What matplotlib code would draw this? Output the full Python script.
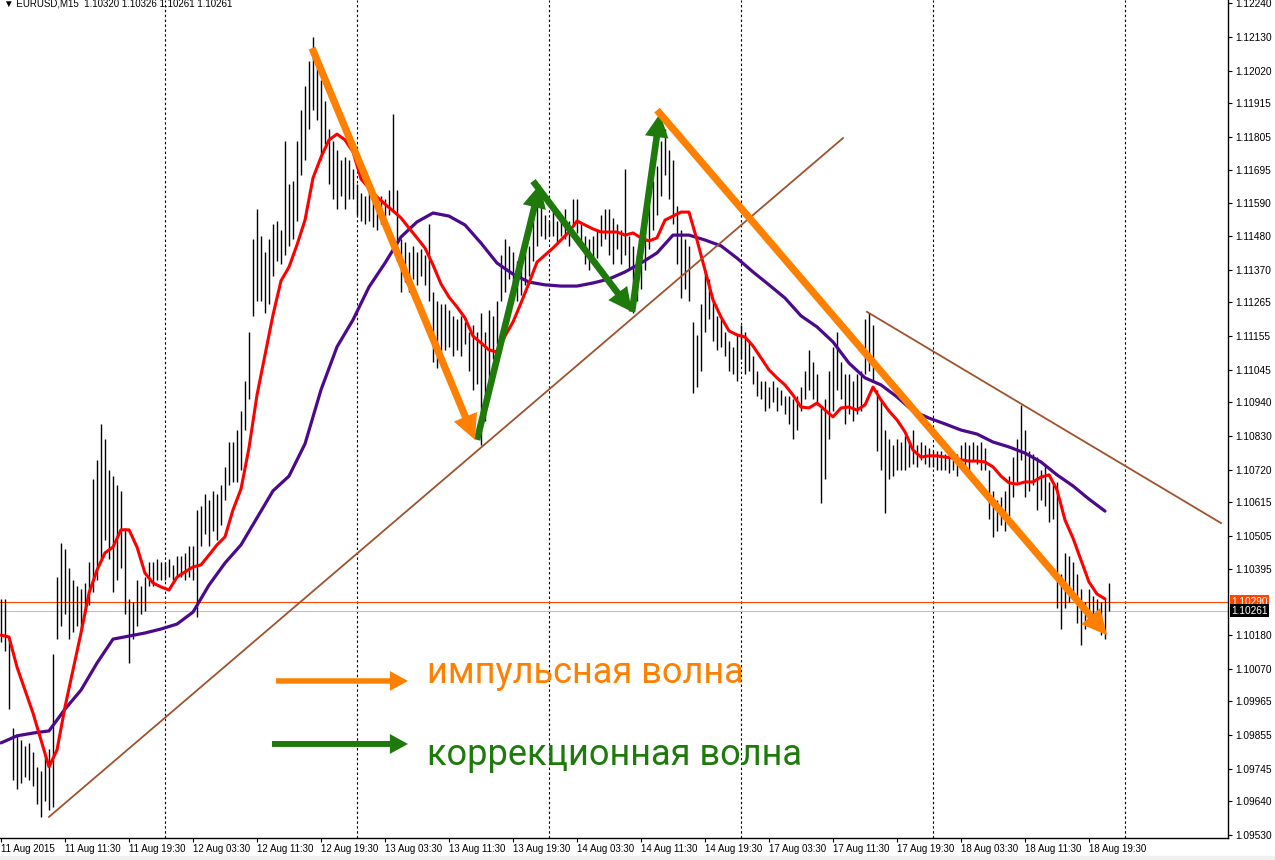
import numpy as np
import matplotlib
matplotlib.use("Agg")
import matplotlib.pyplot as plt
import matplotlib.transforms as mtransforms
from matplotlib.patches import FancyArrowPatch, Rectangle

# EURUSD bars, one entry every 2 M15 slots (bar index = 2*i)
highs = [
    1.1030, 1.1030, 1.1017, 1.0988, 1.0986, 1.0984, 1.0982, 1.0983, 1.0980, 1.0975, 1.0974, 1.0979, 1.0981, 1.1012,
    1.1037, 1.1048, 1.1046, 1.1040, 1.1036, 1.1034, 1.1033, 1.1035, 1.1042, 1.1069, 1.1075, 1.1087,
    1.1082, 1.1072, 1.1070, 1.1067, 1.1065, 1.1053, 1.1030, 1.1029, 1.1036, 1.1034, 1.1037, 1.1042,
    1.1042, 1.1043, 1.1042, 1.1042, 1.1043, 1.1041, 1.1044, 1.1044, 1.1045, 1.1047, 1.1047, 1.1059, 1.1060,
    1.1064, 1.1062, 1.1065, 1.1064, 1.1067, 1.1073, 1.1081, 1.1081, 1.1085, 1.1091, 1.1101, 1.1117,
    1.1147, 1.1157, 1.1148, 1.1143, 1.1147, 1.1152, 1.1153, 1.1150, 1.1179, 1.1165, 1.1166, 1.1179,
    1.1189, 1.1197, 1.1205, 1.1213, 1.1205, 1.1199, 1.1192, 1.1183, 1.1179, 1.1176, 1.1173, 1.1174, 1.1173,
    1.1170, 1.1165, 1.1162, 1.1161, 1.1163, 1.1161, 1.1160, 1.1161, 1.1160, 1.1163, 1.1188, 1.1163,
    1.1147, 1.1146, 1.1143, 1.1145, 1.1143, 1.1144, 1.1142, 1.1152, 1.1130, 1.1127, 1.1126, 1.1126,
    1.1124, 1.1122, 1.1121, 1.1122, 1.1120, 1.1117, 1.1119, 1.1117, 1.1123, 1.1117, 1.1124, 1.1122,
    1.1127, 1.1142, 1.1147, 1.1145, 1.1143, 1.1140, 1.1138, 1.1143, 1.1145, 1.1155, 1.1161, 1.1160,
    1.1155, 1.1153, 1.1156, 1.1153, 1.1155, 1.1157, 1.1153, 1.1160, 1.1160, 1.1152, 1.1148, 1.1147,
    1.1148, 1.1150, 1.1155, 1.1157, 1.1157, 1.1154, 1.1152, 1.1150, 1.1170, 1.1148, 1.1145, 1.1142,
    1.1150, 1.1153, 1.1158, 1.1166, 1.1171, 1.1179, 1.1183, 1.1176, 1.1173, 1.1158, 1.1150, 1.1147,
    1.1145, 1.1120, 1.1116, 1.1126, 1.1137, 1.1134, 1.1127, 1.1122, 1.1121, 1.1117, 1.1114, 1.1112,
    1.1116, 1.1119, 1.1117, 1.1114, 1.1109, 1.1104, 1.1101, 1.1101, 1.1099, 1.1101, 1.1099, 1.1098,
    1.1096, 1.1096, 1.1095, 1.1096, 1.1099, 1.1104, 1.1111, 1.1107, 1.1103, 1.1092, 1.1095, 1.1104,
    1.1112, 1.1117, 1.1107, 1.1103, 1.1103, 1.1101, 1.1103, 1.1104, 1.1121, 1.1123, 1.1119, 1.1098,
    1.1095, 1.1085, 1.1082, 1.1080, 1.1082, 1.1081, 1.1083, 1.1081, 1.1085, 1.1080, 1.1081, 1.1080,
    1.1079, 1.1078, 1.1078, 1.1078, 1.1077, 1.1077, 1.1076, 1.1077, 1.1080, 1.1081, 1.1080, 1.1081,
    1.1080, 1.1081, 1.1079, 1.1072, 1.1065, 1.1062, 1.1063, 1.1065, 1.1070, 1.1076, 1.1082, 1.1093,
    1.1085, 1.1078, 1.1077, 1.1076, 1.1072, 1.1074, 1.1068, 1.1067, 1.1068, 1.1038, 1.1045, 1.1044,
    1.1042, 1.1038, 1.1033, 1.1029, 1.1033, 1.1031, 1.1030, 1.1029, 1.1030, 1.1035,
]
lows = [
    1.1016, 1.1013, 1.0994, 1.0971, 1.0968, 1.0970, 1.0972, 1.0971, 1.0969, 1.0963, 1.0959, 1.0964, 1.0961, 1.0962,
    1.1017, 1.1021, 1.1025, 1.1017, 1.1019, 1.1021, 1.1019, 1.1025, 1.1028, 1.1032, 1.1036, 1.1043,
    1.1049, 1.1043, 1.1032, 1.1036, 1.1040, 1.1025, 1.1009, 1.1017, 1.1021, 1.1025, 1.1026, 1.1034,
    1.1034, 1.1036, 1.1036, 1.1036, 1.1037, 1.1036, 1.1037, 1.1037, 1.1036, 1.1037, 1.1036, 1.1024, 1.1047,
    1.1051, 1.1047, 1.1052, 1.1049, 1.1054, 1.1062, 1.1067, 1.1068, 1.1068, 1.1072, 1.1085, 1.1095,
    1.1122, 1.1127, 1.1127, 1.1123, 1.1126, 1.1135, 1.1140, 1.1139, 1.1142, 1.1145, 1.1147, 1.1153,
    1.1168, 1.1173, 1.1183, 1.1189, 1.1186, 1.1173, 1.1178, 1.1165, 1.1160, 1.1157, 1.1161, 1.1157, 1.1160,
    1.1160, 1.1155, 1.1153, 1.1152, 1.1153, 1.1151, 1.1150, 1.1152, 1.1152, 1.1155, 1.1156, 1.1140,
    1.1130, 1.1133, 1.1130, 1.1134, 1.1132, 1.1135, 1.1132, 1.1127, 1.1107, 1.1105, 1.1109, 1.1111,
    1.1112, 1.1109, 1.1111, 1.1109, 1.1113, 1.1104, 1.1098, 1.1100, 1.1080, 1.1088, 1.1101, 1.1108,
    1.1113, 1.1127, 1.1130, 1.1134, 1.1130, 1.1127, 1.1129, 1.1132, 1.1135, 1.1140, 1.1145, 1.1148,
    1.1147, 1.1148, 1.1148, 1.1146, 1.1148, 1.1147, 1.1145, 1.1152, 1.1149, 1.1144, 1.1139, 1.1137,
    1.1140, 1.1141, 1.1145, 1.1147, 1.1142, 1.1139, 1.1144, 1.1139, 1.1142, 1.1137, 1.1123, 1.1127,
    1.1131, 1.1137, 1.1144, 1.1150, 1.1155, 1.1161, 1.1168, 1.1160, 1.1152, 1.1139, 1.1128, 1.1131,
    1.1127, 1.1097, 1.1099, 1.1104, 1.1117, 1.1121, 1.1114, 1.1111, 1.1112, 1.1109, 1.1104, 1.1103,
    1.1101, 1.1108, 1.1103, 1.1104, 1.1100, 1.1096, 1.1095, 1.1091, 1.1092, 1.1094, 1.1091, 1.1093,
    1.1090, 1.1087, 1.1082, 1.1085, 1.1091, 1.1095, 1.1098, 1.1095, 1.1093, 1.1061, 1.1069, 1.1082,
    1.1091, 1.1098, 1.1095, 1.1087, 1.1090, 1.1088, 1.1090, 1.1091, 1.1103, 1.1104, 1.1101, 1.1078,
    1.1072, 1.1058, 1.1069, 1.1070, 1.1072, 1.1072, 1.1072, 1.1073, 1.1074, 1.1073, 1.1075, 1.1074,
    1.1073, 1.1073, 1.1072, 1.1072, 1.1072, 1.1071, 1.1072, 1.1070, 1.1073, 1.1073, 1.1072, 1.1075,
    1.1074, 1.1072, 1.1072, 1.1056, 1.1050, 1.1052, 1.1054, 1.1052, 1.1057, 1.1063, 1.1068, 1.1075,
    1.1063, 1.1065, 1.1067, 1.1059, 1.1062, 1.1060, 1.1055, 1.1056, 1.1027, 1.1020, 1.1027, 1.1029,
    1.1031, 1.1022, 1.1015, 1.1020, 1.1025, 1.1024, 1.1023, 1.1018, 1.1017, 1.1026,
]

# fast MA (red), one value every 4 M15 slots
red_step = 4
ma_red = [
    1.10181, 1.10175, 1.10077, 1.10002, 1.09927, 1.09839, 1.09752, 1.09807, 1.09947, 1.10067,
    1.10188, 1.10318, 1.10393, 1.10449, 1.10468, 1.10524, 1.10524, 1.10468, 1.10383, 1.10351,
    1.10338, 1.10328, 1.10370, 1.10387, 1.10403, 1.10410, 1.10442, 1.10475, 1.10501, 1.10589,
    1.10657, 1.10791, 1.10963, 1.11094, 1.11224, 1.11335, 1.11380, 1.11452, 1.11533, 1.11670,
    1.11738, 1.11794, 1.11813, 1.11794, 1.11755, 1.11667, 1.11637, 1.11608, 1.11585, 1.11563,
    1.11540, 1.11507, 1.11475, 1.11442, 1.11387, 1.11325, 1.11282, 1.11250, 1.11214, 1.11155,
    1.11133, 1.11110, 1.11103, 1.11155, 1.11201, 1.11263, 1.11328, 1.11396, 1.11419, 1.11442,
    1.11468, 1.11494, 1.11530, 1.11517, 1.11504, 1.11494, 1.11494, 1.11494, 1.11484, 1.11491,
    1.11475, 1.11465, 1.11475, 1.11533, 1.11546, 1.11559, 1.11559, 1.11468, 1.11370, 1.11273,
    1.11217, 1.11172, 1.11159, 1.11152, 1.11123, 1.11084, 1.11045, 1.11019, 1.10996, 1.10963,
    1.10924, 1.10921, 1.10937, 1.10914, 1.10892, 1.10921, 1.10924, 1.10914, 1.10931, 1.10989,
    1.10947, 1.10911, 1.10882, 1.10843, 1.10784, 1.10761, 1.10765, 1.10765, 1.10761, 1.10758,
    1.10752, 1.10748, 1.10748, 1.10745, 1.10729, 1.10699, 1.10677, 1.10673, 1.10680, 1.10680,
    1.10696, 1.10703, 1.10654, 1.10556, 1.10497, 1.10426, 1.10354, 1.10315, 1.10299,
]
# slow MA (purple), one value every 8 M15 slots
purple_step = 8
ma_purple = [
    1.09830, 1.09853, 1.09862, 1.09869, 1.09940, 1.10002, 1.10090, 1.10168, 1.10178, 1.10188,
    1.10201, 1.10217, 1.10256, 1.10344, 1.10416, 1.10475, 1.10563, 1.10651, 1.10699, 1.10804,
    1.10980, 1.11120, 1.11208, 1.11315, 1.11393, 1.11478, 1.11527, 1.11556, 1.11546, 1.11517,
    1.11458, 1.11393, 1.11357, 1.11331, 1.11322, 1.11318, 1.11318, 1.11328, 1.11341, 1.11364,
    1.11393, 1.11426, 1.11484, 1.11484, 1.11468, 1.11449, 1.11409, 1.11364, 1.11322, 1.11279,
    1.11221, 1.11185, 1.11136, 1.11067, 1.11019, 1.10996, 1.10957, 1.10911, 1.10888, 1.10869,
    1.10849, 1.10836, 1.10810, 1.10794, 1.10774, 1.10745, 1.10703, 1.10667, 1.10624, 1.10585,
]

# drawings: (bar, price) pairs
impulse_waves = [((155.5, 1.12093), (237.0, 1.10817)),
                 ((328.0, 1.11891), (553.0, 1.10181))]
correction_waves = [((238.0, 1.10817), (269.5, 1.11650)),
                    ((266.0, 1.11660), (315.5, 1.11234)),
                    ((315.5, 1.11234), (329.5, 1.11880))]
trend_lines = [((24.0, 1.09589), (421.0, 1.11800)),
               ((433.0, 1.11234), (610.0, 1.10546))]

day_breaks = [82, 178, 274, 370, 466, 562]
time_labels = ['11 Aug 2015', '11 Aug 11:30', '11 Aug 19:30', '12 Aug 03:30', '12 Aug 11:30',
               '12 Aug 19:30', '13 Aug 03:30', '13 Aug 11:30', '13 Aug 19:30', '14 Aug 03:30',
               '14 Aug 11:30', '14 Aug 19:30', '17 Aug 03:30', '17 Aug 11:30', '17 Aug 19:30',
               '18 Aug 03:30', '18 Aug 11:30', '18 Aug 19:30']
price_ticks = [1.12240, 1.12130, 1.12020, 1.11915, 1.11805, 1.11695, 1.11590, 1.11480, 1.11370,
               1.11265, 1.11155, 1.11045, 1.10940, 1.10830, 1.10720, 1.10615, 1.10505, 1.10395,
               1.10180, 1.10070, 1.09965, 1.09855, 1.09745, 1.09640, 1.09530]
ask = 1.10290
bid = 1.10261
header = '\u25bc EURUSD,M15  1.10320 1.10326 1.10261 1.10261'

ORANGE = '#FF8000'
GREEN = '#1F7A0C'
BROWN = '#A0522D'
small_font = ['Liberation Sans', 'DejaVu Sans']

fig = plt.figure(figsize=(12.75, 8.6), dpi=100)
fig.patches.append(Rectangle((0, 0), 1, 4 / 860, transform=fig.transFigure,
                             color='#F0F0F0', zorder=0))
ax = fig.add_axes([0, 1 - 838 / 860, 1228 / 1275, 838 / 860])
ax.set_xlim(-0.5, 613.5)
ax.set_ylim(1.095202, 1.122498)

for b in day_breaks:
    ax.axvline(b, color='black', lw=0.8, ls=(0, (2.2, 2.2)), zorder=1)

ax.axhline(ask, color='#FF4500', lw=0.8, zorder=1)
ax.axhline(bid, color='#C0C0C0', lw=0.8, zorder=1)

xb = np.arange(len(highs)) * 2
ax.vlines(xb, lows, highs, colors='black', linewidth=1.0, zorder=2)

ax.plot(np.arange(len(ma_purple)) * purple_step, ma_purple, color='#4B0A8C', lw=2.3,
        solid_capstyle='round', solid_joinstyle='round', zorder=3)
ax.plot(np.arange(len(ma_red)) * red_step, ma_red, color='#FF0000', lw=2.2,
        solid_capstyle='round', solid_joinstyle='round', zorder=4)

for (x0, y0), (x1, y1) in trend_lines:
    ax.plot([x0, x1], [y0, y1], color=BROWN, lw=1.3, zorder=5)

for (a, b) in correction_waves:
    ax.add_patch(FancyArrowPatch(a, b, arrowstyle='simple,head_length=0.85,head_width=0.85,tail_width=0.24',
                                 mutation_scale=20, color=GREEN, lw=0, shrinkA=0, shrinkB=0, zorder=6))
for (a, b) in impulse_waves:
    ax.add_patch(FancyArrowPatch(a, b, arrowstyle='simple,head_length=0.9,head_width=0.9,tail_width=0.26',
                                 mutation_scale=20, color=ORANGE, lw=0, shrinkA=0, shrinkB=0, zorder=7))

# legend arrows and labels
ax.add_patch(FancyArrowPatch((0.2248, 0.1874), (0.3322, 0.1874), transform=ax.transAxes,
                             arrowstyle='simple,head_length=1.0,head_width=1.1,tail_width=0.3',
                             mutation_scale=13, color=ORANGE, lw=0, shrinkA=0, shrinkB=0))
ax.add_patch(FancyArrowPatch((0.2215, 0.1122), (0.3322, 0.1122), transform=ax.transAxes,
                             arrowstyle='simple,head_length=1.0,head_width=1.1,tail_width=0.33',
                             mutation_scale=13, color=GREEN, lw=0, shrinkA=0, shrinkB=0))
ax.text(0.3477, 0.1850, 'импульсная волна', transform=ax.transAxes, color=ORANGE,
        fontsize=26, family='Roboto', va='baseline', ha='left')
ax.text(0.3477, 0.0871, 'коррекционная волна', transform=ax.transAxes, color=GREEN,
        fontsize=26, family='Roboto', va='baseline', ha='left')

ax.text(0.0032, 0.9955, header, transform=ax.transAxes, fontsize=7, family=small_font,
        va='center', ha='left', color='black')

# axes styling like the terminal
for s in ['top', 'left']:
    ax.spines[s].set_visible(False)
for s in ['right', 'bottom']:
    ax.spines[s].set_color('black')
    ax.spines[s].set_linewidth(1.0)

ax.yaxis.tick_right()
ax.set_yticks(price_ticks)
ax.set_yticklabels(['%.5f' % p for p in price_ticks], family='Liberation Sans', fontsize=7.3)
ax.tick_params(axis='y', direction='out', length=3, width=0.8, pad=2, colors='black')

ax.set_xticks(np.arange(len(time_labels)) * 32)
ax.set_xticklabels(time_labels, family='Liberation Sans', fontsize=7)
for lbl in ax.get_xticklabels():
    lbl.set_ha('left')
ax.tick_params(axis='x', direction='out', length=3, width=0.8, pad=1.5, colors='black')

trans = mtransforms.blended_transform_factory(ax.transAxes, ax.transData)
ax.text(1.0025, ask, '%.5f' % ask, transform=trans, fontsize=7.3, family='Liberation Sans',
        color='white', va='center', ha='left',
        bbox=dict(boxstyle='square,pad=0.12', fc='#FF4500', ec='none'))
ax.text(1.0025, bid, '%.5f' % bid, transform=trans, fontsize=7.3, family='Liberation Sans',
        color='white', va='center', ha='left',
        bbox=dict(boxstyle='square,pad=0.12', fc='black', ec='none'))

fig.savefig('out.png', dpi=100)
